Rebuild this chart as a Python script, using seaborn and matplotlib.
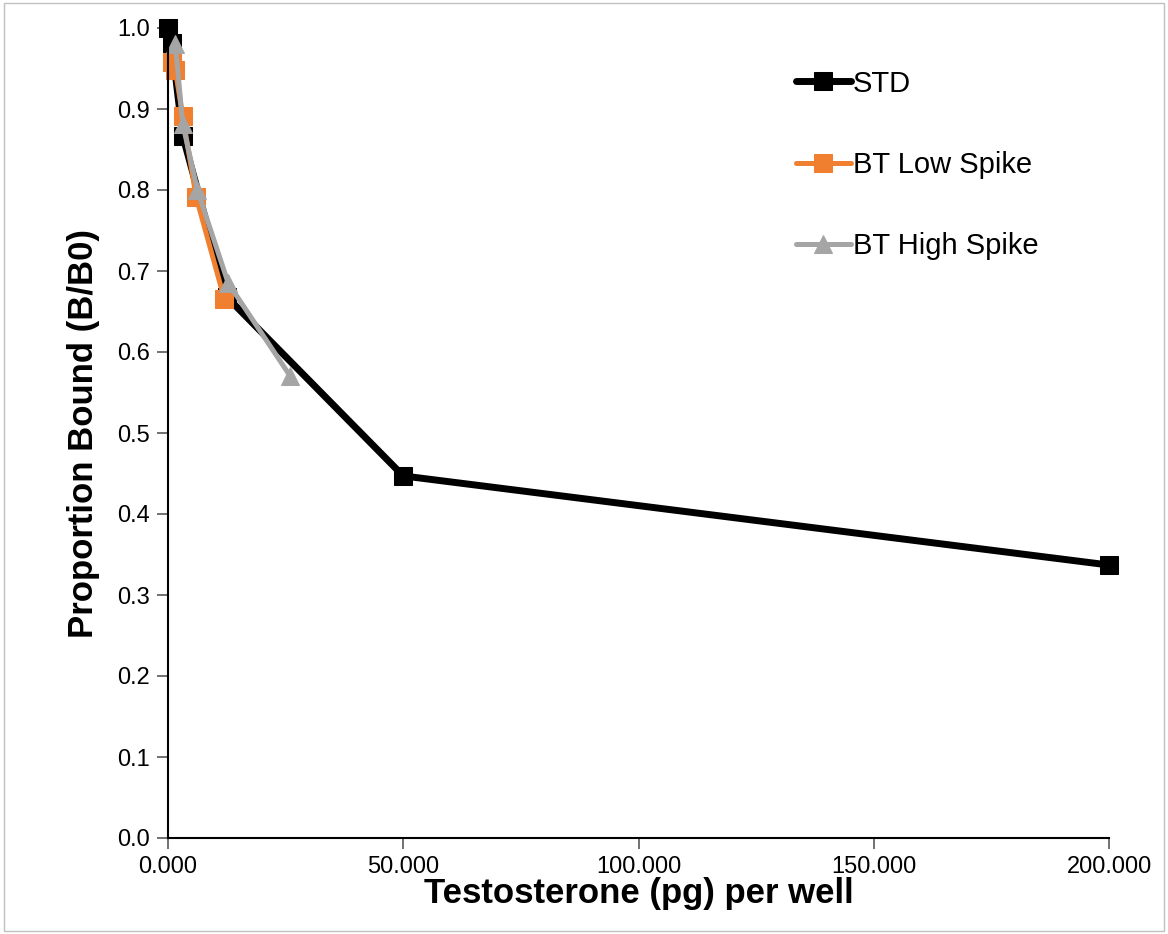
import matplotlib
matplotlib.use("Agg")
import matplotlib.pyplot as plt
import seaborn as sns
import pandas as pd
from matplotlib.patches import Rectangle
from matplotlib.ticker import FormatStrFormatter

# Data
std_x = [0.0, 0.78, 3.125, 12.5, 50.0, 200.0]
std_y = [1.000, 0.981, 0.867, 0.668, 0.447, 0.337]

low_x = [0.78, 1.56, 3.125, 6.0, 12.0]
low_y = [0.958, 0.948, 0.891, 0.791, 0.665]

high_x = [1.56, 3.125, 6.25, 12.8, 26.0]
high_y = [0.980, 0.882, 0.800, 0.685, 0.570]

series_names = ["STD", "BT Low Spike", "BT High Spike"]
x_ticks = [0, 50, 100, 150, 200]
y_ticks = [0.0, 0.1, 0.2, 0.3, 0.4, 0.5, 0.6, 0.7, 0.8, 0.9, 1.0]

sns.set_style("white")
plt.rcParams['font.family'] = ['Liberation Sans', 'DejaVu Sans']
plt.rcParams['text.color'] = 'black'
plt.rcParams['axes.labelcolor'] = 'black'
plt.rcParams['xtick.color'] = 'black'
plt.rcParams['ytick.color'] = 'black'

fig = plt.figure(figsize=(11.68, 9.34), dpi=100)
ax = fig.add_axes([168/1168, 1 - 838/934, (1109-168)/1168, (838-28)/934])

styles = [
    dict(color="#000000", marker="s", markersize=13, linewidth=5.0),
    dict(color="#F07F30", marker="s", markersize=12.5, linewidth=3.6),
    dict(color="#A5A5A5", marker="^", markersize=13, linewidth=3.6),
]
datas = [(std_x, std_y), (low_x, low_y), (high_x, high_y)]
for name, (xs, ys), st in zip(series_names, datas, styles):
    df = pd.DataFrame({"x": xs, "y": ys})
    sns.lineplot(data=df, x="x", y="y", ax=ax, sort=False, label=name,
                 color=st["color"], marker=st["marker"], markersize=st["markersize"],
                 linewidth=st["linewidth"], markeredgecolor=st["color"],
                 solid_capstyle="round", solid_joinstyle="round", clip_on=False)

ax.set_xlim(0, 200)
ax.set_ylim(0, 1.0)
ax.set_xticks(x_ticks)
ax.set_yticks(y_ticks)
ax.xaxis.set_major_formatter(FormatStrFormatter('%.3f'))
ax.yaxis.set_major_formatter(FormatStrFormatter('%.1f'))
ax.tick_params(axis='both', direction='out', length=8, width=1.2, color='#595959',
               labelsize=17, labelcolor='black', pad=5, bottom=True, left=True)
for s in ['top', 'right']:
    ax.spines[s].set_visible(False)
for s in ['left', 'bottom']:
    ax.spines[s].set_color('#000000')
    ax.spines[s].set_linewidth(1.5)

ax.set_xlabel("Testosterone (pg) per well", fontsize=25, fontweight='bold', labelpad=-1)
ax.set_ylabel("Proportion Bound (B/B0)", fontsize=25, fontweight='bold', labelpad=12)

leg = ax.legend(loc='upper left', bbox_to_anchor=((784-168)/941, 1 - (58-28)/810),
                frameon=False, fontsize=21, handlelength=1.9, handletextpad=0.05,
                labelspacing=1.82, borderaxespad=0)
for t in leg.get_texts():
    t.set_color('black')

fig.patches.append(Rectangle((0.003, 0.003), 0.994, 0.994, transform=fig.transFigure,
                             fill=False, edgecolor='#C0C0C0', linewidth=1))

fig.savefig("out.png", dpi=100)
